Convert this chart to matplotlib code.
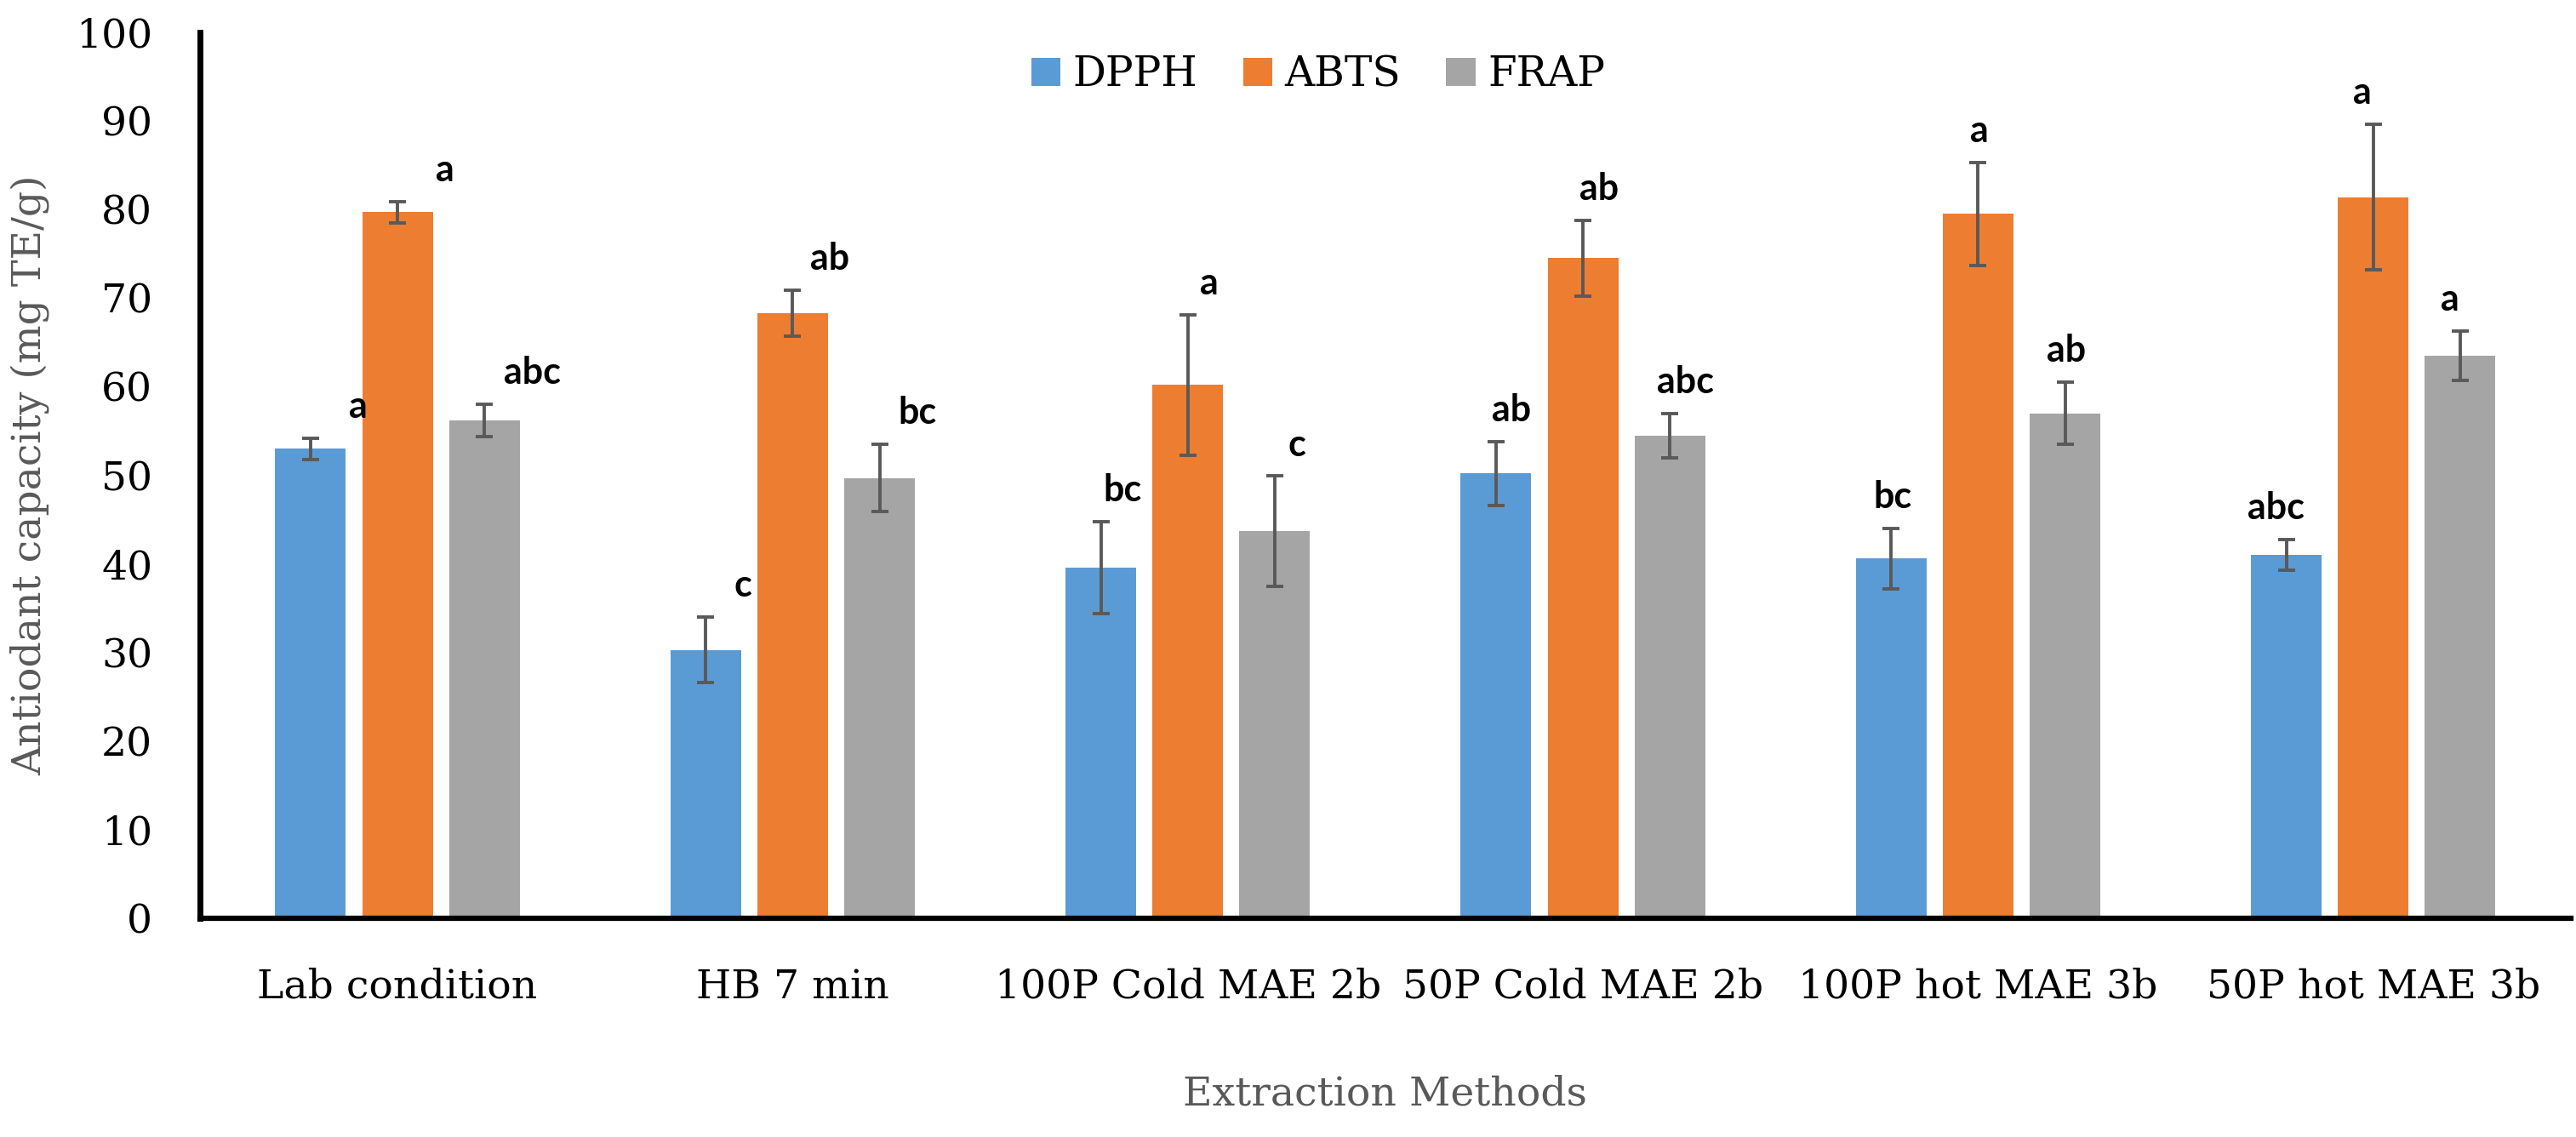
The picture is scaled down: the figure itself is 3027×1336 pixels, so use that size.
import matplotlib
matplotlib.use("Agg")
import matplotlib.pyplot as plt
import numpy as np

categories = ["Lab condition", "HB 7 min", "100P Cold MAE 2b", "50P Cold MAE 2b",
              "100P hot MAE 3b", "50P hot MAE 3b"]
series = ["DPPH", "ABTS", "FRAP"]

dpph = [53.0, 30.3, 39.6, 50.2, 40.6, 41.0]
abts = [79.7, 68.3, 60.2, 74.5, 79.5, 81.4]
frap = [56.2, 49.7, 43.7, 54.5, 57.0, 63.5]

dpph_err = [1.2, 3.7, 5.2, 3.6, 3.4, 1.7]
abts_err = [1.2, 2.6, 7.9, 4.3, 5.8, 8.2]
frap_err = [1.8, 3.8, 6.2, 2.5, 3.5, 2.8]

dpph_lab = ["a", "c", "bc", "ab", "bc", "abc"]
abts_lab = ["a", "ab", "a", "ab", "a", "a"]
frap_lab = ["abc", "bc", "c", "abc", "ab", "a"]

# the letter labels drift sideways from group to group in the original
lab_dx = [0.12, 0.095, 0.055, 0.04, 0.003, -0.027]

colors = ["#5B9BD5", "#ED7D31", "#A5A5A5"]
serif = "DejaVu Serif"

fig = plt.figure(figsize=(30.27, 13.36), dpi=100)
ax = fig.add_axes([0.0776, 0.1924, 0.9204, 0.7792])

x = np.arange(len(categories))
w = 0.179
step = 0.22
vals = [dpph, abts, frap]
errs = [dpph_err, abts_err, frap_err]
labs = [dpph_lab, abts_lab, frap_lab]

for k in range(3):
    xs = x + (k - 1) * step
    ax.bar(xs, vals[k], width=w, color=colors[k], label=series[k], zorder=2)
    ax.errorbar(xs, vals[k], yerr=errs[k], fmt="none", ecolor="#595959",
                elinewidth=2.8, capsize=7, capthick=2.8, zorder=3)
    for xi, dx, v, e, t in zip(xs, lab_dx, vals[k], errs[k], labs[k]):
        ax.text(xi + dx, v + e + 2.3, t, ha="center", va="baseline",
                fontsize=31, fontweight="bold", family="Lato", color="black")

ax.set_xlim(-0.5, len(categories) - 0.5)
ax.set_ylim(0, 100)
ax.set_yticks(range(0, 101, 10))
ax.set_xticks(x)
ax.set_xticklabels(categories)
for lbl in ax.get_xticklabels() + ax.get_yticklabels():
    lbl.set_family(serif)
    lbl.set_fontsize(34)
ax.tick_params(axis="y", length=0, pad=40)
ax.tick_params(axis="x", length=0, pad=42)

for s in ["top", "right"]:
    ax.spines[s].set_visible(False)
ax.spines["left"].set_linewidth(5)
ax.spines["bottom"].set_linewidth(4.5)

ax.set_ylabel("Antiodant capacity (mg TE/g)", family=serif, fontsize=34,
              color="#595959", labelpad=22)
ax.set_xlabel("Extraction Methods", family=serif, fontsize=34,
              color="#595959", labelpad=58)

leg = ax.legend(loc="center", bbox_to_anchor=(0.4717, 0.952), ncol=3,
                frameon=False, prop={"family": serif, "size": 35},
                handlelength=0.7, handleheight=0.68, handletextpad=0.3,
                columnspacing=1.1)

fig.savefig("out.png", dpi=100)
